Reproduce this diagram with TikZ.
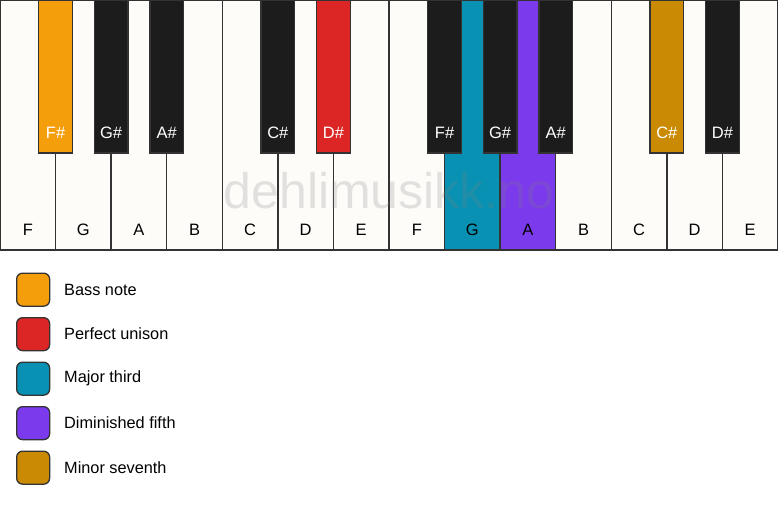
\documentclass[tikz,border=0pt]{standalone}
\usepackage{fontspec}
\setmainfont{Liberation Sans}
\definecolor{wkey}{HTML}{FDFCF9}
\definecolor{bkey}{HTML}{1C1C1C}
\definecolor{edge}{HTML}{333333}
\definecolor{cbass}{HTML}{F59E0B}
\definecolor{cunison}{HTML}{DC2626}
\definecolor{cthird}{HTML}{0891B2}
\definecolor{cfifth}{HTML}{7C3AED}
\definecolor{cseventh}{HTML}{CA8A04}
\tikzset{
  whitekey/.style={draw=edge, line width=1.3pt, fill=wkey, minimum width=55.571pt, minimum height=250pt, anchor=north west, inner sep=0pt, outer sep=0pt},
  blackkey/.style={draw=edge, line width=1.3pt, fill=bkey, minimum width=33.5pt, minimum height=153pt, anchor=north, inner sep=0pt, outer sep=0pt},
  wlabel/.style={font=\fontsize{16.5}{16.5}\selectfont, text=black, inner sep=0pt},
  blabel/.style={font=\fontsize{16.5}{16.5}\selectfont, text=white, inner sep=0pt},
  legbox/.style={draw=edge, line width=1.3pt, rounded corners=6pt, minimum width=33pt, minimum height=33pt, inner sep=0pt, anchor=north west},
  legtext/.style={font=\fontsize{16.3}{16.3}\selectfont, anchor=west, inner sep=0pt},
}
\begin{document}
\begin{tikzpicture}[x=1pt,y=-1pt]
\useasboundingbox (0,0) rectangle (778,506);
\fill[white] (0,0) rectangle (778,506);
% white keys
\foreach \i/\n/\c in {0/F/wkey,1/G/wkey,2/A/wkey,3/B/wkey,4/C/wkey,5/D/wkey,6/E/wkey,7/F/wkey,8/G/cthird,9/A/cfifth,10/B/wkey,11/C/wkey,12/D/wkey,13/E/wkey}{
  \node[whitekey, fill=\c] (w\i) at (\i*55.571,0) {};
  \node[wlabel] (wl\i) at (\i*55.571+27.8,230) {\n};
}
% watermark
\node[font=\fontsize{50}{50}\selectfont, text=gray, opacity=0.22, anchor=base] (wm) at (389,208) {dehlimusikk.no};
% black keys
\foreach \b/\n/\c in {1/F\#/cbass,2/G\#/bkey,3/A\#/bkey,5/C\#/bkey,6/D\#/cunison,8/F\#/bkey,9/G\#/bkey,10/A\#/bkey,12/C\#/cseventh,13/D\#/bkey}{
  \node[blackkey, fill=\c] (b\b) at (\b*55.571,0) {};
  \node[blabel] (bl\b) at (\b*55.571,133) {\n};
}
% legend
\foreach \k/\c/\t in {0/cbass/Bass note,1/cunison/Perfect unison,2/cthird/Major third,3/cfifth/Diminished fifth,4/cseventh/Minor seventh}{
  \node[legbox, fill=\c] (lb\k) at (16,272.5+\k*44.5) {};
  \node[legtext] (lt\k) at (64,289.5+\k*44.5) {\t};
}
\end{tikzpicture}
\end{document}
